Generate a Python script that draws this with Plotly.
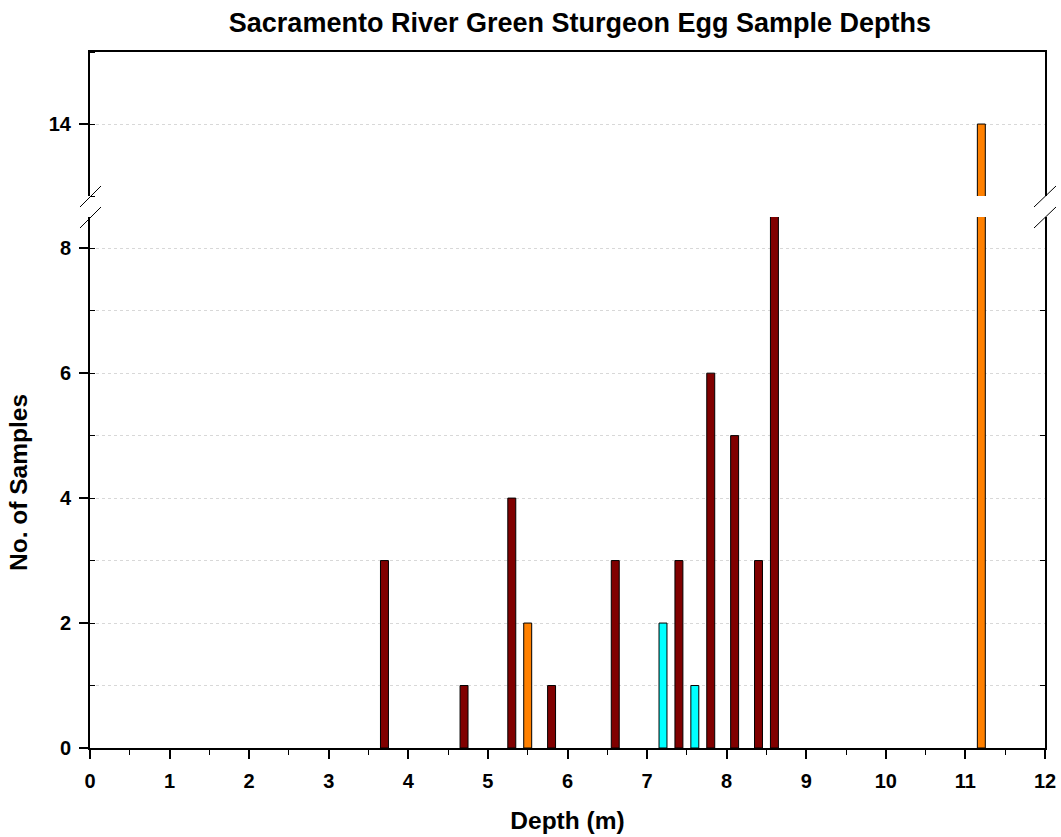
import plotly.graph_objects as go

# Data (depth in m, number of samples)
maroon_depth = [3.7, 4.7, 5.3, 5.8, 6.6, 7.4, 7.8, 8.1, 8.4, 8.6]
maroon_count = [3, 1, 4, 1, 3, 3, 6, 5, 3, 9]
orange_depth = [5.5, 11.2]
orange_count = [2, 14]
cyan_depth = [7.2, 7.6]
cyan_count = [2, 1]

x_ticks = list(range(0, 13))
y_low_ticks = [0, 2, 4, 6, 8]
y_high_ticks = [14]

FONT = "Liberation Sans, Arial, sans-serif"
series = [
    (maroon_depth, maroon_count, "#800000"),
    (orange_depth, orange_count, "#FF8000"),
    (cyan_depth, cyan_count, "#00FFFF"),
]

fig = go.Figure()
for xs, ys, col in series:
    for xa, ya in (("x", "y"), ("x2", "y2")):
        fig.add_trace(go.Bar(
            x=xs, y=ys, width=0.1, xaxis=xa, yaxis=ya,
            marker=dict(color=col, line=dict(color="black", width=1)),
            showlegend=False, hoverinfo="x+y",
        ))

low_dom = [0, 0.763]
high_dom = [0.793, 1]
grid_col = "#d8d8d8"
tickfont = dict(family=FONT, size=20, color="black", weight="bold")
titlefont = dict(family=FONT, size=24.5, color="black", weight="bold")

fig.update_layout(
    width=1061, height=837,
    margin=dict(l=90, r=16, t=52, b=89, autoexpand=False),
    plot_bgcolor="white", paper_bgcolor="white",
    barmode="overlay",
    font=dict(family=FONT, color="black"),
    title=dict(text="Sacramento River Green Sturgeon Egg Sample Depths",
               font=dict(family=FONT, size=27, color="black", weight="bold"),
               x=0.513, xref="paper", xanchor="center",
               y=1 - 23 / 837, yref="container", yanchor="middle"),
    xaxis=dict(range=[0, 12], tickvals=x_ticks, ticks="outside", ticklen=9,
               tickwidth=2, tickcolor="black", ticklabelstandoff=5,
               minor=dict(dtick=0.5, tick0=0, ticks="outside", ticklen=5,
                          tickwidth=1, tickcolor="black", showgrid=False),
               showline=True, linecolor="black", linewidth=2, mirror=False,
               showgrid=False, zeroline=False, anchor="y",
               tickfont=tickfont, automargin=False,
               title=dict(text="Depth (m)", font=titlefont, standoff=21)),
    xaxis2=dict(range=[0, 12], matches="x", anchor="y2", side="top",
                showticklabels=False, ticks="", showline=True,
                linecolor="black", linewidth=2, mirror=False,
                showgrid=False, zeroline=False, automargin=False),
    yaxis=dict(domain=low_dom, range=[0, 8.5], tickvals=y_low_ticks,
               ticks="outside", ticklen=9, tickwidth=2, tickcolor="black",
               ticklabelstandoff=4,
               minor=dict(dtick=1, tick0=0, ticks="inside", ticklen=5,
                          tickwidth=1, tickcolor="black", showgrid=True,
                          gridcolor=grid_col, griddash="dot", gridwidth=1),
               showgrid=True, gridcolor=grid_col, griddash="dot", gridwidth=1,
               showline=True, linecolor="black", linewidth=2, mirror=True,
               zeroline=False, anchor="x", tickfont=tickfont, automargin=False,
               title=dict(text="No. of Samples", font=titlefont, standoff=25)),
    yaxis2=dict(domain=high_dom, range=[13, 15], tickvals=y_high_ticks,
                ticks="outside", ticklen=9, tickwidth=2, tickcolor="black",
                ticklabelstandoff=4,
                minor=dict(dtick=1, tick0=0, ticks="inside", ticklen=5,
                           tickwidth=1, tickcolor="black", showgrid=True,
                           gridcolor=grid_col, griddash="dot", gridwidth=1),
                showgrid=True, gridcolor=grid_col, griddash="dot", gridwidth=1,
                showline=True, linecolor="black", linewidth=2, mirror=True,
                zeroline=False, anchor="x2", tickfont=tickfont, automargin=False),
    yaxis3=dict(overlaying="y", side="right", range=[0, 8.5],
                tickvals=[1, 3, 5, 7], ticks="inside", ticklen=5, tickwidth=1,
                tickcolor="black", showticklabels=False, showgrid=False,
                showline=False, zeroline=False, anchor="x", automargin=False),
    yaxis4=dict(overlaying="y2", side="right", range=[13, 15],
                tickvals=[13], ticks="inside", ticklen=5, tickwidth=1,
                tickcolor="black", showticklabels=False, showgrid=False,
                showline=False, zeroline=False, anchor="x2", automargin=False),
)

# invisible traces so the right-side tick axes render
fig.add_trace(go.Scatter(x=[0], y=[0], xaxis="x", yaxis="y3", mode="markers",
                         marker=dict(opacity=0), showlegend=False, hoverinfo="skip"))
fig.add_trace(go.Scatter(x=[0], y=[13], xaxis="x2", yaxis="y4", mode="markers",
                         marker=dict(opacity=0), showlegend=False, hoverinfo="skip"))

# axis-break markers
plot_w = 1061 - 90 - 16
plot_h = 837 - 52 - 89
def px_x(p):
    return (p - 90) / plot_w
def px_y(p):
    return (837 - 89 - p) / plot_h

for x0, x1 in ((80, 101), (1034, 1056)):
    for yc in (196, 217):
        fig.add_shape(type="line", xref="paper", yref="paper",
                      x0=px_x(x0), x1=px_x(x1),
                      y0=px_y(yc + 11), y1=px_y(yc - 10),
                      line=dict(color="black", width=1))

fig.write_html("out.html", config={"displayModeBar": False},
               post_script="document.body.style.margin='0px';")
